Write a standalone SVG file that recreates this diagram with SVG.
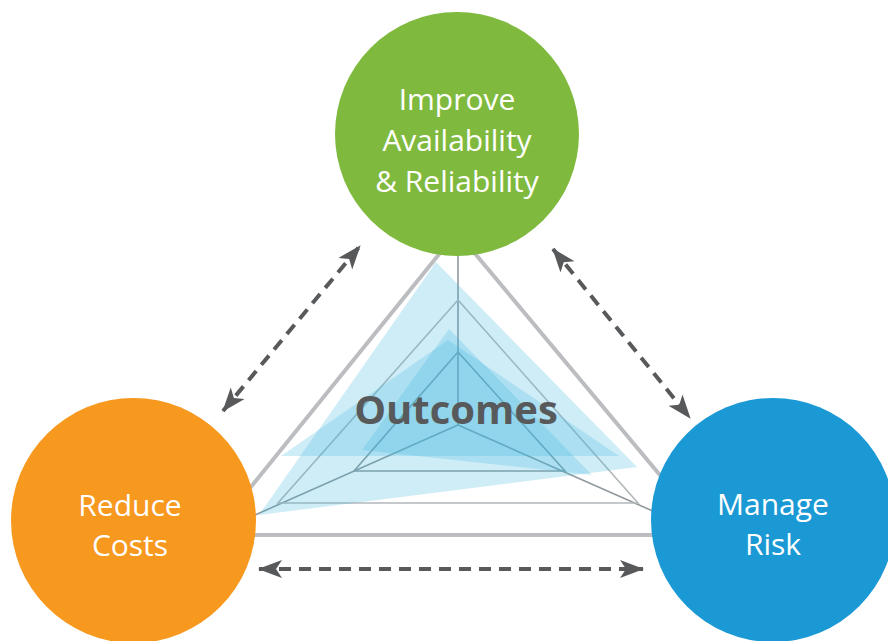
<svg xmlns="http://www.w3.org/2000/svg" width="888" height="641" viewBox="0 0 888 641">
  <style>
    .frame { fill: none; stroke: #bcbdc0; stroke-width: 4; stroke-linejoin: round; }
    .axis { fill: none; stroke: #8f999d; stroke-width: 1.6; }
    .ring { fill: none; stroke: #b4b8ba; stroke-width: 1.6; }
    .area { fill: #3fb8e0; fill-opacity: 0.25; }
    .link { fill: none; stroke: #58595b; stroke-width: 4; stroke-dasharray: 12 8; }
    .label { font-family: "Open Sans", "Noto Sans", "Liberation Sans", sans-serif; font-size: 30px; fill: #ffffff; text-anchor: middle; }
    .title { font-family: "Open Sans", "Noto Sans", "Liberation Sans", sans-serif; font-size: 40px; font-weight: 700; fill: #58595b; text-anchor: middle; }
  </style>
  <defs>
    <marker id="head" viewBox="0 0 24 20" refX="23" refY="10" markerWidth="24" markerHeight="20" markerUnits="userSpaceOnUse" orient="auto-start-reverse">
      <path d="M0,1 L24,10 L0,19 L6,10 Z" fill="#58595b"/>
    </marker>
  </defs>

  <!-- radar chart in the middle -->
  <g id="radar">
    <polygon class="frame" points="457,232 212,535 710,535"/>
    <polyline class="axis" points="458,255 458,425 255,515"/>
    <line class="axis" x1="458" y1="425" x2="655" y2="512"/>
    <polygon class="ring" points="458,300 278,503 638,503"/>
    <polygon class="axis" points="458,352 354,471 565,471"/>
    <polygon class="area" points="436,262 259,515 637,467"/>
    <polygon class="area" points="448,340 281,456 619,456"/>
    <polygon class="area" points="449,329 362,450 592,475"/>
    <text class="title" x="456" y="424">Outcomes</text>
  </g>

  <!-- connectors -->
  <g id="connectors">
    <line class="link" x1="223" y1="411" x2="360" y2="246" marker-start="url(#head)" marker-end="url(#head)"/>
    <line class="link" x1="553" y1="249" x2="690" y2="418" marker-start="url(#head)" marker-end="url(#head)"/>
    <line class="link" x1="259" y1="569" x2="643" y2="569" marker-start="url(#head)" marker-end="url(#head)"/>
  </g>

  <g id="availability">
    <circle cx="457" cy="134" r="122" fill="#7fba3f"/>
    <text class="label" x="457" y="110">Improve</text>
    <text class="label" x="457" y="151">Availability</text>
    <text class="label" x="457" y="192">&amp; Reliability</text>
  </g>

  <g id="costs">
    <circle cx="133.5" cy="520.5" r="122.5" fill="#f7981f"/>
    <text class="label" x="130" y="516">Reduce</text>
    <text class="label" x="130" y="556">Costs</text>
  </g>

  <g id="risk">
    <circle cx="773" cy="520" r="122" fill="#1b99d5"/>
    <text class="label" x="773" y="515">Manage</text>
    <text class="label" x="773" y="555">Risk</text>
  </g>
</svg>
